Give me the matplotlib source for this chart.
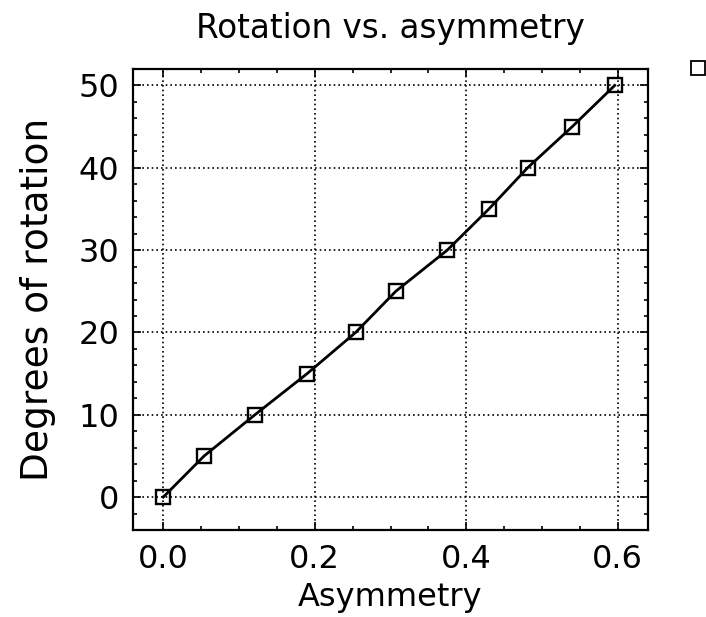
import matplotlib
matplotlib.use("Agg")
import matplotlib.pyplot as plt
from matplotlib.lines import Line2D
from matplotlib.ticker import MultipleLocator

# Data
asymmetry = [0.0, 0.054, 0.121, 0.190, 0.254, 0.307, 0.375, 0.430, 0.481, 0.540, 0.596]
rotation = [0, 5, 10, 15, 20, 25, 30, 35, 40, 45, 50]

title = "Rotation vs. asymmetry"
xlabel = "Asymmetry"
ylabel = "Degrees of rotation"
xticks = [0.0, 0.2, 0.4, 0.6]
xticklabels = ["0.0", "0.2", "0.4", "0.6"]
yticks = [0, 10, 20, 30, 40, 50]
yticklabels = ["0", "10", "20", "30", "40", "50"]

plt.rcParams['font.family'] = ['DejaVu Sans']

fig = plt.figure(figsize=(7.06, 6.17), dpi=100)
ax = fig.add_axes([133/706, 1-530/617, (648-133)/706, (530-69)/617])

ax.plot(asymmetry, rotation, color='black', lw=2.0, marker='s', markersize=10,
        markerfacecolor='none', markeredgecolor='black', markeredgewidth=1.7, zorder=3)

ax.set_xlim(-0.04, 0.64)
ax.set_ylim(-4, 52)
ax.set_xticks(xticks)
ax.set_xticklabels(xticklabels)
ax.set_yticks(yticks)
ax.set_yticklabels(yticklabels)
ax.xaxis.set_minor_locator(MultipleLocator(0.05))
ax.yaxis.set_minor_locator(MultipleLocator(2))

ax.grid(True, which='major', color='black', linestyle=(0, (1, 1.8)), linewidth=1.2)
ax.tick_params(which='both', direction='in', top=True, right=True, colors='black')
ax.tick_params(which='major', length=6, width=1.2, labelsize=23, pad=10)
ax.tick_params(which='minor', length=3, width=1.2)
for s in ax.spines.values():
    s.set_linewidth(1.6)

ax.set_title(title, fontsize=23.5, pad=22)
ax.set_xlabel(xlabel, fontsize=23, labelpad=5)
ax.set_ylabel(ylabel, fontsize=27, labelpad=16)

proxy = Line2D([], [], linestyle='none', marker='s', markersize=9.5,
               markerfacecolor='none', markeredgecolor='black', markeredgewidth=1.3)
fig.legend(handles=[proxy], labels=[''], loc='center',
           bbox_to_anchor=(698/706, 1-69/617), frameon=False,
           handlelength=1, handletextpad=0, borderpad=0, borderaxespad=0)

fig.savefig("out.png", dpi=100)
